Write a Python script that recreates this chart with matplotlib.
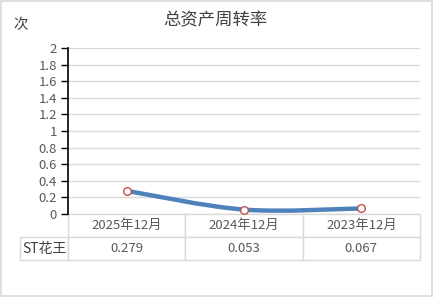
import numpy as np
import matplotlib.pyplot as plt
from matplotlib.path import Path
from matplotlib.patches import PathPatch, Rectangle

plt.rcParams['font.family'] = ['Noto Sans CJK SC', 'DejaVu Sans']

# 数据
categories = ['2025年12月', '2024年12月', '2023年12月']
series_name = 'ST花王'
values = [0.279, 0.053, 0.067]
yticks = [0, 0.2, 0.4, 0.6, 0.8, 1, 1.2, 1.4, 1.6, 1.8, 2]

grey = '#595959'
line_c = '#4f81bd'
grid_c = '#d9d9d9'

fig = plt.figure(figsize=(4.33, 2.97), dpi=100)
fig.add_artist(Rectangle((0.002, 0.002), 0.996, 0.994, transform=fig.transFigure,
                         fill=False, edgecolor=grid_c, linewidth=1.2))
ax = fig.add_axes([68 / 433, 1 - 214 / 297, 352 / 433, 166 / 297])

x = np.arange(len(values))
y = np.array(values)

# 平滑曲线 (Bezier, 类似 Excel 平滑线)
verts = [(x[0], y[0])]
codes = [Path.MOVETO]
n = len(x)
for i in range(n - 1):
    p0 = np.array([x[max(i - 1, 0)], y[max(i - 1, 0)]])
    p1 = np.array([x[i], y[i]])
    p2 = np.array([x[i + 1], y[i + 1]])
    p3 = np.array([x[min(i + 2, n - 1)], y[min(i + 2, n - 1)]])
    c1 = p1 + (p2 - p0) / 6
    c2 = p2 - (p3 - p1) / 6
    verts += [tuple(c1), tuple(c2), tuple(p2)]
    codes += [Path.CURVE4] * 3
ax.add_patch(PathPatch(Path(verts, codes), facecolor='none', edgecolor=line_c,
                       linewidth=3.2, capstyle='round', zorder=3))
ax.plot(x, y, linestyle='none', marker='o', markersize=5.5, markerfacecolor='white',
        markeredgecolor='#c0504d', markeredgewidth=1, zorder=4)

ax.set_xlim(-0.5, 2.5)
ax.set_ylim(0, 2)
ax.set_yticks(yticks)
ax.set_yticklabels([f'{t:g}' for t in yticks], fontsize=9.5, color=grey)
ax.set_xticks([])
ax.yaxis.grid(True, color=grid_c, linewidth=1)
ax.set_axisbelow(True)
for s in ['top', 'right', 'bottom']:
    ax.spines[s].set_visible(False)
ax.spines['left'].set_color('black')
ax.spines['left'].set_linewidth(1.2)
ax.tick_params(axis='y', direction='out', length=5, width=1, pad=3, colors='black',
               labelcolor=grey)

# 数据表
cell_text = [[series_name] + [f'{v:.3f}' for v in values]]
tbl = ax.table(cellText=cell_text, colLabels=[''] + categories,
               colWidths=[48, 117.3, 117.3, 117.3], cellLoc='center',
               bbox=[-48 / 352, -46 / 166, 400 / 352, 46 / 166])
tbl.auto_set_font_size(False)
for (r, c), cell in tbl.get_celld().items():
    cell.set_edgecolor(grid_c)
    cell.set_linewidth(1)
    cell.get_text().set_fontsize(9.5)
    cell.get_text().set_color(grey)
    if r == 0 and c == 0:
        cell.visible_edges = ''
    if c == 0 and r == 1:
        cell.get_text().set_fontsize(10)
        cell.get_text().set_color('#404040')

fig.text(215 / 433, 1 - 20 / 297, '总资产周转率', ha='center', va='center',
         fontsize=12.5, color='#404040')
fig.text(21 / 433, 1 - 25 / 297, '次', ha='center', va='center',
         fontsize=10.5, color='#404040')

fig.savefig('out.png', dpi=100)
